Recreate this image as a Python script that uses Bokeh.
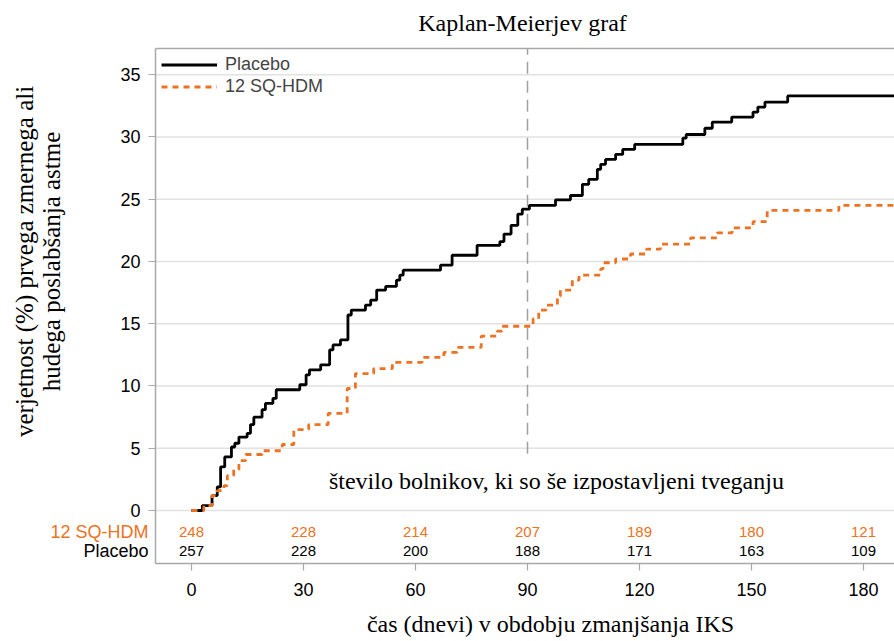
import math
from bokeh.plotting import figure
from bokeh.models import Label, LinearAxis, FixedTicker, Range1d
from bokeh.core.properties import value
from bokeh.embed import file_html
from bokeh.resources import INLINE

# ---------------- data ----------------
placebo_t = [0, 2.9, 5.5, 6.9, 7.8, 8.9, 10.7, 11.6, 12.7, 14.9, 15.8, 16.7, 18.9, 19.8, 21.8,
             22.7, 29.0, 30.7, 31.6, 34.6, 37.0, 37.9, 39.9, 41.9, 42.8, 46.6, 48.0, 49.6, 52.0,
             54.9, 55.8, 56.7, 66.7, 69.8, 76.5, 82.6, 83.7, 85.6, 87.4, 88.6, 90.5, 97.5, 101.5,
             104.7, 106.4, 108.7, 109.6, 110.9, 113.6, 115.5, 118.7, 131.6, 132.5, 137.5, 139.5,
             144.7, 150.4, 151.7, 153.6, 159.7, 190]
placebo_v = [0, 0.4, 1.2, 1.9, 3.5, 4.3, 5.1, 5.4, 5.9, 6.2, 6.9, 7.5, 8.1, 8.6, 9.0,
             9.7, 10.1, 10.9, 11.3, 11.7, 12.9, 13.3, 13.7, 15.7, 16.1, 16.5, 16.9, 17.7, 18.0,
             18.5, 18.9, 19.3, 19.7, 20.5, 21.3, 21.6, 22.2, 22.9, 23.8, 24.2, 24.5, 24.95, 25.3,
             26.2, 26.6, 27.4, 27.8, 28.2, 28.6, 29.0, 29.4, 29.9, 30.2, 30.7, 31.2,
             31.6, 32.0, 32.4, 32.8, 33.3, 33.3]

hdm_t = [0, 3.3, 5.5, 6.9, 8.7, 9.6, 11.3, 12.7, 14.5, 18.9, 24.3, 27.4, 31.4, 36.6, 41.7,
         43.9, 48.8, 53.8, 61.8, 67.6, 71.2, 77.6, 81.9, 83.2, 91.5, 93.0, 95.0, 98.0, 98.8,
         102.0, 103.8, 109.6, 110.2, 113.6, 117.6, 121.9, 125.6, 133.7, 140.8, 144.8, 150.4,
         154.2, 173.4, 190]
hdm_v = [0, 0.4, 1.2, 1.6, 2.0, 2.8, 3.3, 4.0, 4.5, 4.8, 5.3, 6.5, 6.9, 7.8, 9.8,
         11.0, 11.4, 11.9, 12.3, 12.7, 13.1, 14.0, 14.4, 14.8, 15.4, 16.1, 16.5, 17.2, 17.7,
         18.5, 18.9, 19.4, 19.9, 20.2, 20.6, 21.0, 21.4, 21.9, 22.3, 22.7, 23.2,
         24.1, 24.5, 24.5]

risk_times = [0, 30, 60, 90, 120, 150, 180]
risk_hdm = [248, 228, 214, 207, 189, 180, 121]
risk_placebo = [257, 228, 200, 188, 171, 163, 109]

x_ticks = [0, 30, 60, 90, 120, 150, 180]
y_ticks = [0, 5, 10, 15, 20, 25, 30, 35]

ref_day = [90]
ref_low = [4.55]
ref_high = [37.11]

row_hdm = -1.69
row_placebo = -3.29

# plotting box in data units; the frame around it hosts titles and row labels
BOX_X0, BOX_X1 = -9.64, 188.3
BOX_Y0, BOX_Y1 = -4.26, 37.11

ORANGE = "#EC7323"
GRAY = "#a8a8a8"
SANS = "Liberation Sans"
SERIF = "Liberation Serif"

W, H = 894, 641

# ---------------- figure ----------------
p = figure(width=W, height=H,
           x_range=Range1d(-51.16, BOX_X1), y_range=Range1d(-10.52, 40.96),
           output_backend="svg", toolbar_location=None,
           min_border_left=0, min_border_right=0, min_border_top=0, min_border_bottom=0,
           x_axis_location=None, y_axis_location=None)
p.outline_line_color = None
p.background_fill_color = "white"
p.border_fill_color = "white"
p.title.visible = False
p.xgrid.visible = False
p.ygrid.visible = False

yaxis = LinearAxis(fixed_location=BOX_X0, bounds=(BOX_Y0, BOX_Y1), ticker=FixedTicker(ticks=y_ticks))
xaxis = LinearAxis(fixed_location=BOX_Y0, bounds=(BOX_X0, BOX_X1), ticker=FixedTicker(ticks=x_ticks))
p.add_layout(yaxis, "left")
p.add_layout(xaxis, "below")
for ax in (xaxis, yaxis):
    ax.axis_line_color = GRAY
    ax.axis_line_width = 1.5
    ax.major_tick_line_color = GRAY
    ax.major_tick_line_width = 1.2
    ax.major_tick_out = 7
    ax.major_tick_in = 0
    ax.minor_tick_line_color = None
    ax.major_label_text_font = SANS
    ax.major_label_text_font_size = "18px"
    ax.major_label_text_color = "black"
xaxis.major_label_standoff = 12
yaxis.major_label_standoff = 8

top_axis = LinearAxis(fixed_location=BOX_Y1, ticker=FixedTicker(ticks=[]), major_tick_out=0,
                      major_tick_in=0, minor_tick_out=0, minor_tick_in=0, bounds=(BOX_X0, BOX_X1),
                      major_label_text_font_size="0px", axis_line_color=GRAY, axis_line_width=1.5)
p.add_layout(top_axis, "above")

# horizontal grid lines only inside the plotting box
p.segment(x0=[BOX_X0] * len(y_ticks), y0=y_ticks, x1=[BOX_X1] * len(y_ticks), y1=y_ticks,
          line_color="#e2e2e2", line_width=1.5)

# reference line at day 90
p.segment(x0=ref_day, y0=ref_low, x1=ref_day, y1=ref_high,
          line_color="#a0a0a0", line_width=1.5, line_dash="12 7")

# curves
p.step(placebo_t, placebo_v, mode="after", line_color="black", line_width=2.8,
       legend_label="Placebo")
p.step(hdm_t, hdm_v, mode="after", line_color=ORANGE, line_width=2.8, line_dash="6 5",
       legend_label="12 SQ-HDM")

lg = p.legend[0]
lg.location = (155, H - 48 - 55)
lg.margin = 0
lg.padding = 6
lg.spacing = 1
lg.glyph_width = 56
lg.glyph_height = 21
lg.label_height = 21
lg.label_standoff = 8
lg.label_text_font = SANS
lg.label_text_font_size = "18px"
lg.background_fill_alpha = 0
lg.border_line_alpha = 0

# risk table
p.text(x=risk_times, y=[row_hdm] * len(risk_times), text=[str(n) for n in risk_hdm],
       text_font=value(SANS), text_font_size="15px", text_color=ORANGE,
       text_align="center", text_baseline="middle")
p.text(x=risk_times, y=[row_placebo] * len(risk_times), text=[str(n) for n in risk_placebo],
       text_font=value(SANS), text_font_size="15px", text_color="black",
       text_align="center", text_baseline="middle")

# row labels of the risk table (left of the plotting box)
p.add_layout(Label(x=-11.5, y=row_hdm, text="12 SQ-HDM", text_font=SANS, text_font_size="18px",
                   text_color=ORANGE, text_align="right", text_baseline="middle"))
p.add_layout(Label(x=-11.5, y=row_placebo, text="Placebo", text_font=SANS, text_font_size="18px",
                   text_color="black", text_align="right", text_baseline="middle"))

p.add_layout(Label(x=36.8, y=2.35, text="število bolnikov, ki so še izpostavljeni tveganju",
                   text_font=SERIF, text_font_size="24px", text_color="black",
                   text_align="left", text_baseline="middle"))

# chart title
p.add_layout(Label(x=88.67, y=39.12, text="Kaplan-Meierjev graf",
                   text_font=SERIF, text_font_size="24px", text_color="black",
                   text_align="center", text_baseline="middle"))

# x-axis title
p.add_layout(Label(x=96.17, y=-9.1, text="čas (dnevi) v obdobju zmanjšanja IKS",
                   text_font=SERIF, text_font_size="24px", text_color="black",
                   text_align="center", text_baseline="middle"))

# y-axis title: two rotated lines
p.add_layout(Label(x=-44.7, y=20.0, text="verjetnost (%) prvega zmernega ali",
                   text_font=SERIF, text_font_size="25px", text_color="black",
                   text_align="center", text_baseline="middle", angle=math.pi / 2))
p.add_layout(Label(x=-37.4, y=20.0, text="hudega poslabšanja astme",
                   text_font=SERIF, text_font_size="25px", text_color="black",
                   text_align="center", text_baseline="middle", angle=math.pi / 2))

open("out.html", "w").write(file_html(p, INLINE))
